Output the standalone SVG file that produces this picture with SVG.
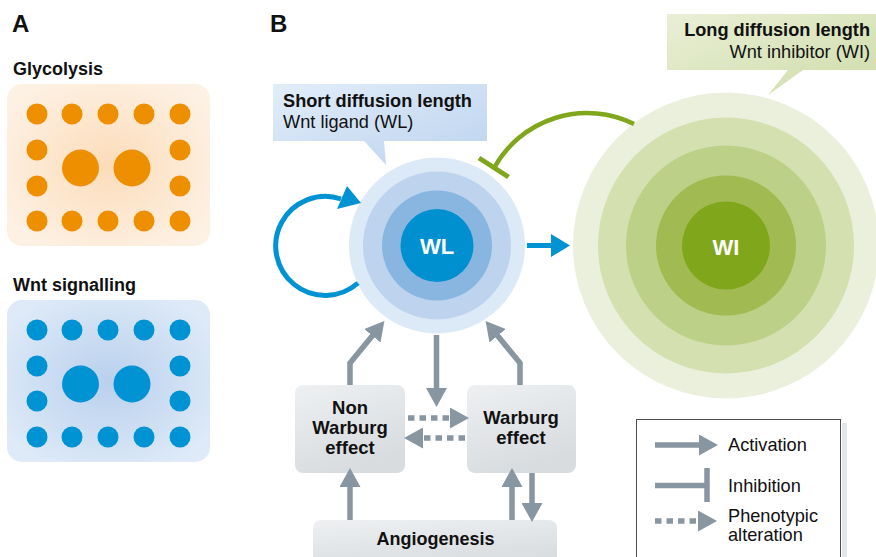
<svg xmlns="http://www.w3.org/2000/svg" width="876" height="557" viewBox="0 0 876 557">
<defs>
<radialGradient id="gOrange" cx="50%" cy="50%" r="60%">
<stop offset="0" stop-color="#fcdcb9"/><stop offset="1" stop-color="#fdf1e4"/>
</radialGradient>
<radialGradient id="gBlue" cx="50%" cy="50%" r="60%">
<stop offset="0" stop-color="#b9d0ed"/><stop offset="1" stop-color="#deeaf8"/>
</radialGradient>
<linearGradient id="gCallB" x1="0" y1="0" x2="1" y2="1">
<stop offset="0" stop-color="#e2edf9"/><stop offset="1" stop-color="#bcd3ef"/>
</linearGradient>
<linearGradient id="gCallG" x1="0" y1="0" x2="1" y2="1">
<stop offset="0" stop-color="#e9efd6"/><stop offset="1" stop-color="#cfdcaa"/>
</linearGradient>
<linearGradient id="gBox" x1="0" y1="0" x2="0.4" y2="1">
<stop offset="0" stop-color="#eef0f2"/><stop offset="1" stop-color="#d8dcdf"/>
</linearGradient>
<marker id="ahGray" viewBox="0 0 19 21" markerWidth="19" markerHeight="21" refX="1" refY="10.5" orient="auto" markerUnits="userSpaceOnUse">
<path d="M0,0 L19,10.5 L0,21 z" fill="#8796a0"/>
</marker>
<marker id="ahBlue" viewBox="0 0 19 23" markerWidth="19" markerHeight="23" refX="1" refY="11.5" orient="auto" markerUnits="userSpaceOnUse">
<path d="M0,0 L19,11.5 L0,23 z" fill="#0093d3"/>
</marker>
</defs>
<style>
.t{font-family:"Liberation Sans",Arial,sans-serif;fill:#111}
.b{font-weight:bold}
.w{fill:#fff;font-weight:bold}
.od{fill:#ee8f00}
.bd{fill:#0093d3}
.ga{stroke:#8796a0;stroke-width:5.5;fill:none}
.gd{stroke:#8796a0;stroke-width:5.5;fill:none;stroke-dasharray:6.5 5}
.box{fill:url(#gBox)}
</style>

<!-- Panel A -->
<g id="panelA">
<text class="t b" x="12" y="32" font-size="24">A</text>
<text class="t b" x="13" y="75" font-size="18">Glycolysis</text>
<g id="glycolysis">
<rect x="7" y="84" width="203" height="162" rx="15" fill="url(#gOrange)"/>
<g class="od">
<circle cx="37" cy="114" r="10.5"/><circle cx="72" cy="114" r="10.5"/><circle cx="108" cy="114" r="10.5"/><circle cx="144" cy="114" r="10.5"/><circle cx="180" cy="114" r="10.5"/>
<circle cx="37" cy="150" r="10.5"/><circle cx="180" cy="150" r="10.5"/>
<circle cx="37" cy="186" r="10.5"/><circle cx="180" cy="186" r="10.5"/>
<circle cx="37" cy="221" r="10.5"/><circle cx="72" cy="221" r="10.5"/><circle cx="108" cy="221" r="10.5"/><circle cx="144" cy="221" r="10.5"/><circle cx="180" cy="221" r="10.5"/>
<circle cx="80.5" cy="168" r="18.5"/><circle cx="132" cy="168" r="18.5"/>
</g>
</g>
<text class="t b" x="13" y="291" font-size="18">Wnt signalling</text>
<g id="wntsignalling">
<rect x="7" y="300" width="203" height="162" rx="15" fill="url(#gBlue)"/>
<g class="bd">
<circle cx="37" cy="330" r="10.5"/><circle cx="72" cy="330" r="10.5"/><circle cx="108" cy="330" r="10.5"/><circle cx="144" cy="330" r="10.5"/><circle cx="180" cy="330" r="10.5"/>
<circle cx="37" cy="366" r="10.5"/><circle cx="180" cy="366" r="10.5"/>
<circle cx="37" cy="401" r="10.5"/><circle cx="180" cy="401" r="10.5"/>
<circle cx="37" cy="437" r="10.5"/><circle cx="72" cy="437" r="10.5"/><circle cx="108" cy="437" r="10.5"/><circle cx="144" cy="437" r="10.5"/><circle cx="180" cy="437" r="10.5"/>
<circle cx="80.5" cy="384" r="18.5"/><circle cx="132" cy="384" r="18.5"/>
</g>
</g>
</g>

<text class="t b" x="270" y="32" font-size="24">B</text>

<!-- Callouts -->
<g id="callout-wl">
<polygon points="273,84 487,84 487,141 384,141 386,165 364,141 273,141" fill="url(#gCallB)"/>
<text class="t b" x="283" y="107" font-size="18.2">Short diffusion length</text>
<text class="t" x="283" y="128" font-size="18.2">Wnt ligand (WL)</text>
</g>
<g id="callout-wi">
<polygon points="667,14 876,14 876,70 803,70 768,95 788,70 667,70" fill="url(#gCallG)"/>
<text class="t b" x="870" y="36" font-size="18.2" text-anchor="end">Long diffusion length</text>
<text class="t" x="870" y="58" font-size="18.2" text-anchor="end">Wnt inhibitor (WI)</text>
</g>

<!-- WI node -->
<g id="WI">
<circle cx="726" cy="245.5" r="153" fill="#ebf0dc"/>
<circle cx="726" cy="245.5" r="128" fill="#d4e0b0"/>
<circle cx="726" cy="245.5" r="100" fill="#bcd087"/>
<circle cx="726" cy="245.5" r="70" fill="#a2ba52"/>
<circle cx="726" cy="245.5" r="44" fill="#80a61c"/>
<text class="t w" x="726" y="255" font-size="22" text-anchor="middle">WI</text>
</g>

<!-- WL node -->
<g id="WL">
<circle cx="437" cy="245.5" r="88" fill="#dce9f7"/>
<circle cx="437" cy="245.5" r="74" fill="#bdd3ee"/>
<circle cx="437" cy="245.5" r="55" fill="#88b6e0"/>
<circle cx="437" cy="245.5" r="36.5" fill="#0090d0"/>
<text class="t w" x="437" y="254" font-size="22" text-anchor="middle">WL</text>
</g>

<!-- Boxes -->
<g id="nonwarburg">
<rect class="box" x="295" y="385" width="110" height="88" rx="8"/>
<text class="t b" x="350" y="414" font-size="18.5" text-anchor="middle">Non</text>
<text class="t b" x="350" y="434" font-size="18.5" text-anchor="middle">Warburg</text>
<text class="t b" x="350" y="454" font-size="18.5" text-anchor="middle">effect</text>
</g>
<g id="warburg">
<rect class="box" x="467" y="385" width="109" height="88" rx="8"/>
<text class="t b" x="521" y="424" font-size="18.5" text-anchor="middle">Warburg</text>
<text class="t b" x="521" y="444" font-size="18.5" text-anchor="middle">effect</text>
</g>
<g id="angiogenesis">
<rect class="box" x="313" y="520" width="244" height="50" rx="8"/>
<text class="t b" x="435.5" y="545" font-size="18" text-anchor="middle">Angiogenesis</text>
</g>

<!-- Connectors -->
<g id="connectors">
<path d="M358,283 A49.5,49.5 0 1 1 341,199" fill="none" stroke="#0093d3" stroke-width="5"/>
<polygon points="347,186 361,203 337,209" fill="#0093d3"/>
<line x1="527" y1="245.5" x2="552" y2="245.5" stroke="#0093d3" stroke-width="5" marker-end="url(#ahBlue)"/>
<path d="M634,124 A106.4,106.4 0 0 0 494,168" fill="none" stroke="#80a61c" stroke-width="4.5"/>
<line x1="479" y1="158" x2="508.5" y2="177" stroke="#80a61c" stroke-width="5"/>
<polyline class="ga" points="350,385 350,363 373,335" marker-end="url(#ahGray)"/>
<polyline class="ga" points="520,385 520,363 497,335" marker-end="url(#ahGray)"/>
<line class="ga" x1="436.5" y1="335" x2="436.5" y2="389" marker-end="url(#ahGray)"/>
<line class="gd" x1="408" y1="418" x2="451" y2="418" marker-end="url(#ahGray)"/>
<line class="gd" x1="465" y1="438" x2="422" y2="438" marker-end="url(#ahGray)"/>
<line class="ga" x1="350" y1="520" x2="350" y2="486" marker-end="url(#ahGray)"/>
<line class="ga" x1="512" y1="520" x2="512" y2="486" marker-end="url(#ahGray)"/>
<line class="ga" x1="532" y1="473" x2="532" y2="504" marker-end="url(#ahGray)"/>
</g>

<!-- Legend -->
<g id="legend">
<rect x="842" y="423" width="5" height="140" fill="#e4e7ea"/>
<rect x="636.5" y="419.5" width="204" height="145" fill="#fff" stroke="#4d4d4d" stroke-width="1"/>
<line class="ga" x1="655" y1="445" x2="700" y2="445" marker-end="url(#ahGray)"/>
<text class="t" x="728" y="451" font-size="18.2">Activation</text>
<line class="ga" x1="655" y1="485.5" x2="707" y2="485.5"/>
<line class="ga" x1="707" y1="468" x2="707" y2="502"/>
<text class="t" x="728" y="492" font-size="18.2">Inhibition</text>
<line class="gd" x1="655" y1="521" x2="699" y2="521" marker-end="url(#ahGray)"/>
<text class="t" x="728" y="522" font-size="18.2">Phenotypic</text>
<text class="t" x="728" y="541" font-size="18.2">alteration</text>
</g>
</svg>
